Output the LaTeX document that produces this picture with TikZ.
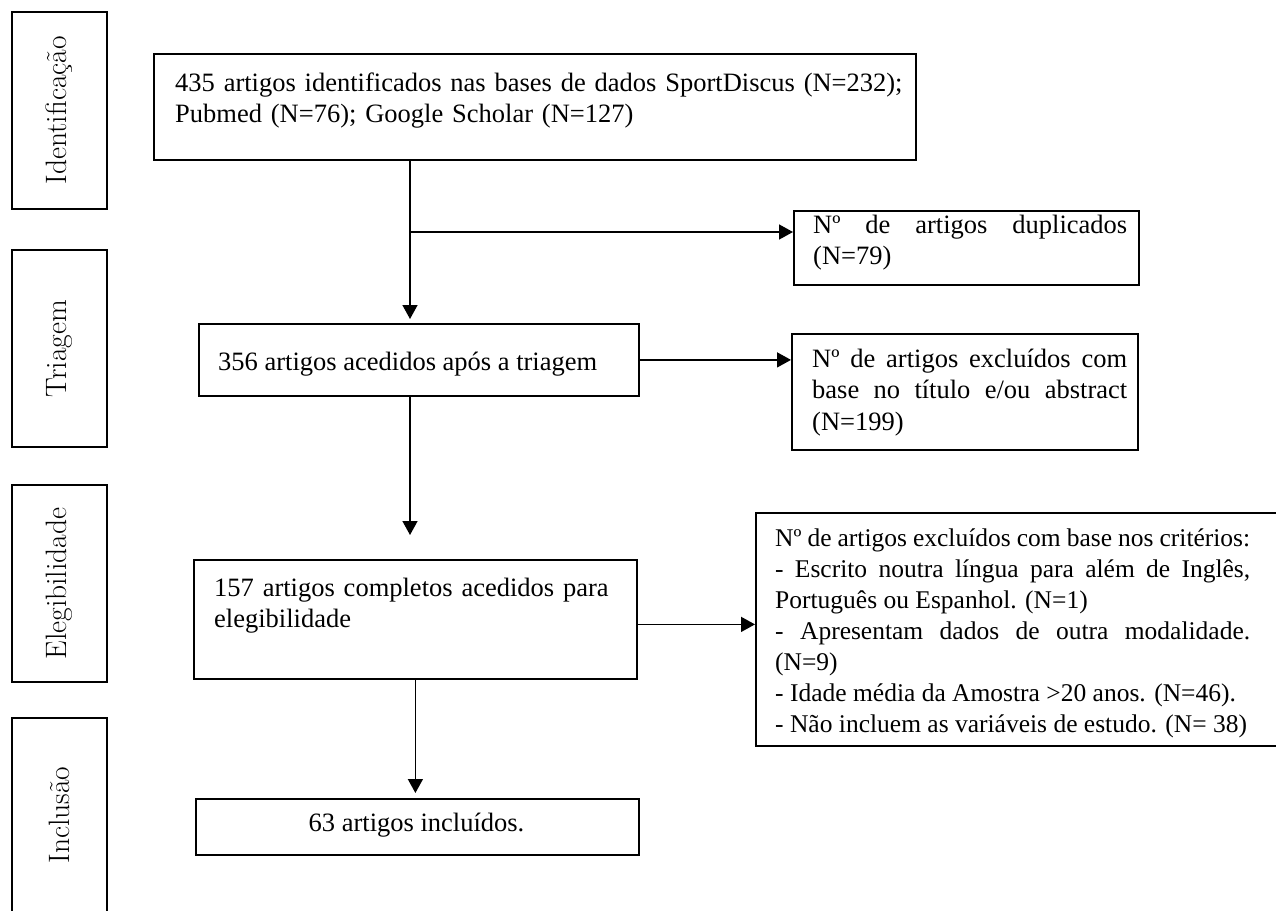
\documentclass[tikz,border=0pt]{standalone}
\usepackage{fontspec}
\newfontfamily\tnr{Liberation Serif}
\usetikzlibrary{arrows.meta,calc}
\begin{document}
\begin{tikzpicture}[x=1pt,y=-1pt,
  box/.style={draw, line width=1.8pt, rectangle, inner sep=0pt, anchor=north west},
  side/.style={draw, line width=1.4pt, rectangle, inner sep=0pt, rotate=90, font=\fontsize{29.5}{34}\selectfont},
  txt/.style={inner sep=0pt, anchor=base west, font=\tnr\fontsize{26.5}{31.5}\selectfont, align=left},
  jtxt/.style={txt, align=justify},
  arr/.style={line width=1.5pt, -{Triangle[length=14pt,width=15pt]}},
  ln/.style={line width=1.5pt}]
\clip (0,0) rectangle (1276,910);
% side labels
\node[side, minimum width=197pt, minimum height=95pt] (sid) at (59.5,110.5) {Identificação};
\node[side, minimum width=197pt, minimum height=95pt] (stri) at (59.5,348.5) {Triagem};
\node[side, minimum width=197pt, minimum height=95pt] (sele) at (59.5,583.5) {Elegibilidade};
\node[side, minimum width=194pt, minimum height=95pt] (sinc) at (59.5,815) {Inclusão};
% boxes
\node[box, minimum width=762pt, minimum height=106pt] (top) at (153,53) {};
\node[box, minimum width=345pt, minimum height=74pt] (dup) at (793,210) {};
\node[box, minimum width=440pt, minimum height=72pt] (trig) at (198,323) {};
\node[box, minimum width=346pt, minimum height=116pt] (excl) at (791,333) {};
\node[box, minimum width=443pt, minimum height=119pt] (elig) at (193,559) {};
\node[box, minimum width=540pt, minimum height=233pt] (crit) at (755,512) {};
\node[box, minimum width=443pt, minimum height=56pt] (incl) at (195,798) {};
% texts
\node[txt, text width=740pt] (topt) at (175,91) {435 artigos identificados nas bases de dados SportDiscus (N=232);\\ Pubmed (N=76); Google Scholar (N=127)};
\node[txt] (trigt) at (218,370) {356 artigos acedidos após a triagem};
\node[txt, text width=400pt] (eligt) at (214,596) {157 artigos completos acedidos para\\ elegibilidade};
\node[jtxt, text width=314pt] (dupt) at (813,233) {Nº de artigos duplicados\linebreak (N=79)};
\node[jtxt, text width=315pt] (exclt) at (812,367) {Nº de artigos excluídos com\linebreak base no título e/ou abstract\linebreak (N=199)};
\node[jtxt, text width=475pt, font=\tnr\fontsize{25.5}{31}\selectfont] (critt) at (775,546) {Nº de artigos excluídos com base nos critérios:\linebreak
- Escrito noutra língua para além de Inglês,\linebreak
Português ou Espanhol. (N=1)\\
- Apresentam dados de outra modalidade.\linebreak
(N=9)\\
- Idade média da Amostra >20 anos. (N=46).\\
- Não incluem as variáveis de estudo. (N= 38)};
\node[txt, anchor=base] (inclt) at (416.5,831) {63 artigos incluídos.};
% connectors
\coordinate (split) at (410,232);
\coordinate (e1) at (410,535);
\draw[arr] (top.south -| split) -- ($(trig.north -| split)+(0,-4)$);
\draw[arr] (split) -- (split -| dup.west);
\draw[arr] (trig.east) -- (trig.east -| excl.west);
\draw[arr] (e1 |- trig.south) -- (e1);
\draw[arr] ($(elig.east)+(0,5)$) -- ($(elig.east -| crit.west)+(0,5)$);
\draw[arr] (elig.south) -- ($(elig.south |- incl.north)+(0,-5)$);
\end{tikzpicture}
\end{document}
